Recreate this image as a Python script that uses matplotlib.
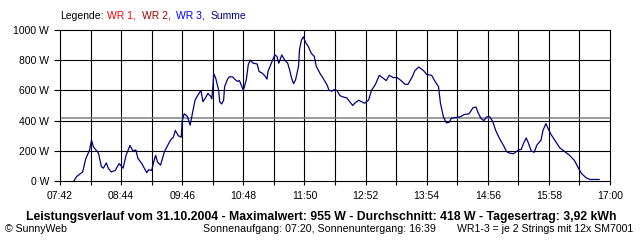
import matplotlib
matplotlib.use('Agg')
import matplotlib.pyplot as plt

# minutes after midnight, power in W (Summe)
minutes = [476, 479, 485, 488, 492, 494, 496, 501, 504, 506, 509, 511, 514, 518,
           522, 526, 529, 533, 536, 539, 541, 545, 550, 552, 555, 557, 559, 561,
           564, 568, 574, 577, 579, 582, 585, 586, 588, 591, 594, 597, 599, 602,
           605, 607, 610, 612, 615, 616, 617, 618, 620, 623, 624, 626, 628, 629,
           632, 634, 637, 640, 642, 644, 645, 648, 651, 653, 655, 658, 662, 664,
           667, 670, 672, 673, 677, 680, 682, 684, 687, 690, 693, 695, 697, 699,
           701, 704, 705, 707, 709, 711, 714, 717, 720, 722, 726, 729, 733, 735,
           738, 740, 743, 746, 750, 753, 756, 759, 761, 765, 768, 771, 775, 778,
           782, 786, 789, 793, 796, 800, 804, 808, 812, 815, 819, 822, 826, 831,
           834, 839, 842, 846, 848, 851, 854, 857, 859, 863, 868, 872, 877, 881,
           884, 886, 889, 892, 895, 898, 901, 904, 908, 912, 915, 918, 922, 927,
           930, 932, 935, 937, 940, 943, 946, 950, 952, 955, 957, 960, 964, 969,
           974, 979, 984, 988, 991, 996, 1000, 1009]
power = [0, 30, 60, 145, 205, 270, 225, 185, 95, 85, 120, 85, 60, 70,
         115, 85, 170, 235, 200, 205, 150, 115, 55, 75, 70, 125, 170, 125,
         105, 195, 270, 290, 335, 300, 290, 400, 445, 430, 370, 470, 535, 570,
         600, 525, 555, 580, 560, 545, 615, 710, 680, 600, 525, 510, 535, 625,
         675, 690, 690, 670, 660, 665, 650, 600, 670, 770, 800, 780, 775, 725,
         715, 695, 675, 725, 790, 835, 825, 780, 835, 800, 780, 735, 680, 645,
         670, 760, 870, 935, 955, 920, 890, 845, 825, 760, 710, 680, 635, 600,
         595, 605, 600, 565, 555, 550, 525, 500, 515, 535, 525, 515, 535, 600,
         640, 700, 685, 665, 700, 685, 685, 665, 640, 640, 685, 730, 755, 730,
         705, 700, 665, 625, 515, 425, 385, 390, 415, 420, 425, 440, 445, 485,
         490, 455, 415, 400, 425, 425, 395, 335, 280, 235, 195, 185, 180, 205,
         210, 245, 285, 255, 200, 190, 240, 270, 335, 380, 350, 310, 270, 220,
         195, 170, 135, 85, 50, 20, 10, 10]

average = 418
t_start, t_end = 462, 1020  # 07:42 .. 17:00
y_ticks = [0, 200, 400, 600, 800, 1000]

legend_parts = [('Legende:', 'black', 60), ('WR 1,', '#ff0000', 107),
                ('WR 2,', '#a00000', 142), ('WR 3,', '#0000ff', 176),
                ('Summe', '#000080', 211)]

title = ('Leistungsverlauf vom 31.10.2004 - Maximalwert: 955 W - '
         'Durchschnitt: 418 W - Tagesertrag: 3,92 kWh')


def hhmm(m):
    return '%02d:%02d' % (m // 60, m % 60)


def main():
    plt.rcParams['font.family'] = 'Liberation Sans'
    W, H = 640, 240
    fig = plt.figure(figsize=(6.4, 2.4), dpi=100)
    ax = fig.add_axes([60 / W, (H - 181) / H, 550 / W, 151 / H])

    step = (t_end - t_start) / 18
    vticks = [t_start + i * step for i in range(19)]
    for v in vticks[1:-1]:
        ax.axvline(v, color='black', lw=0.8, zorder=1)
    for y in y_ticks[1:-1]:
        ax.axhline(y, color='black', lw=0.8, zorder=1)
    ax.axhline(average, color='#808080', lw=1.1, zorder=2)

    ax.plot(minutes, power, color='#000080', lw=0.9, zorder=3)

    ax.set_xlim(t_start, t_end)
    ax.set_ylim(0, 1000)
    ax.set_xticks(vticks)
    ax.set_xticklabels([hhmm(round(v)) if i % 2 == 0 else ''
                        for i, v in enumerate(vticks)])
    ax.set_yticks(y_ticks)
    ax.set_yticklabels(['%d W' % y for y in y_ticks])
    ax.tick_params(axis='x', length=3, width=0.8, pad=4, labelsize=7.5)
    ax.tick_params(axis='y', length=4.3, width=0.8, pad=3.5, labelsize=7.5)
    for s in ax.spines.values():
        s.set_linewidth(0.8)

    for txt, col, px in legend_parts:
        fig.text(px / W, 1 - 16 / H, txt, color=col, fontsize=7.5,
                 va='center', ha='left')

    fig.text(321 / W, 1 - 217 / H, title, fontsize=8.8, fontweight='bold',
             ha='center', va='center')
    fig.text(5 / W, 1 - 229 / H, '\u00a9 SunnyWeb', fontsize=7.6, va='center')
    fig.text(203 / W, 1 - 229 / H,
             'Sonnenaufgang: 07:20, Sonnenuntergang: 16:39',
             fontsize=7.7, va='center')
    fig.text(633 / W, 1 - 229 / H, 'WR1-3 = je 2 Strings mit 12x SM7001',
             fontsize=7.6, va='center', ha='right')

    fig.savefig('out.png', dpi=100, facecolor='white')


if __name__ == '__main__':
    main()
